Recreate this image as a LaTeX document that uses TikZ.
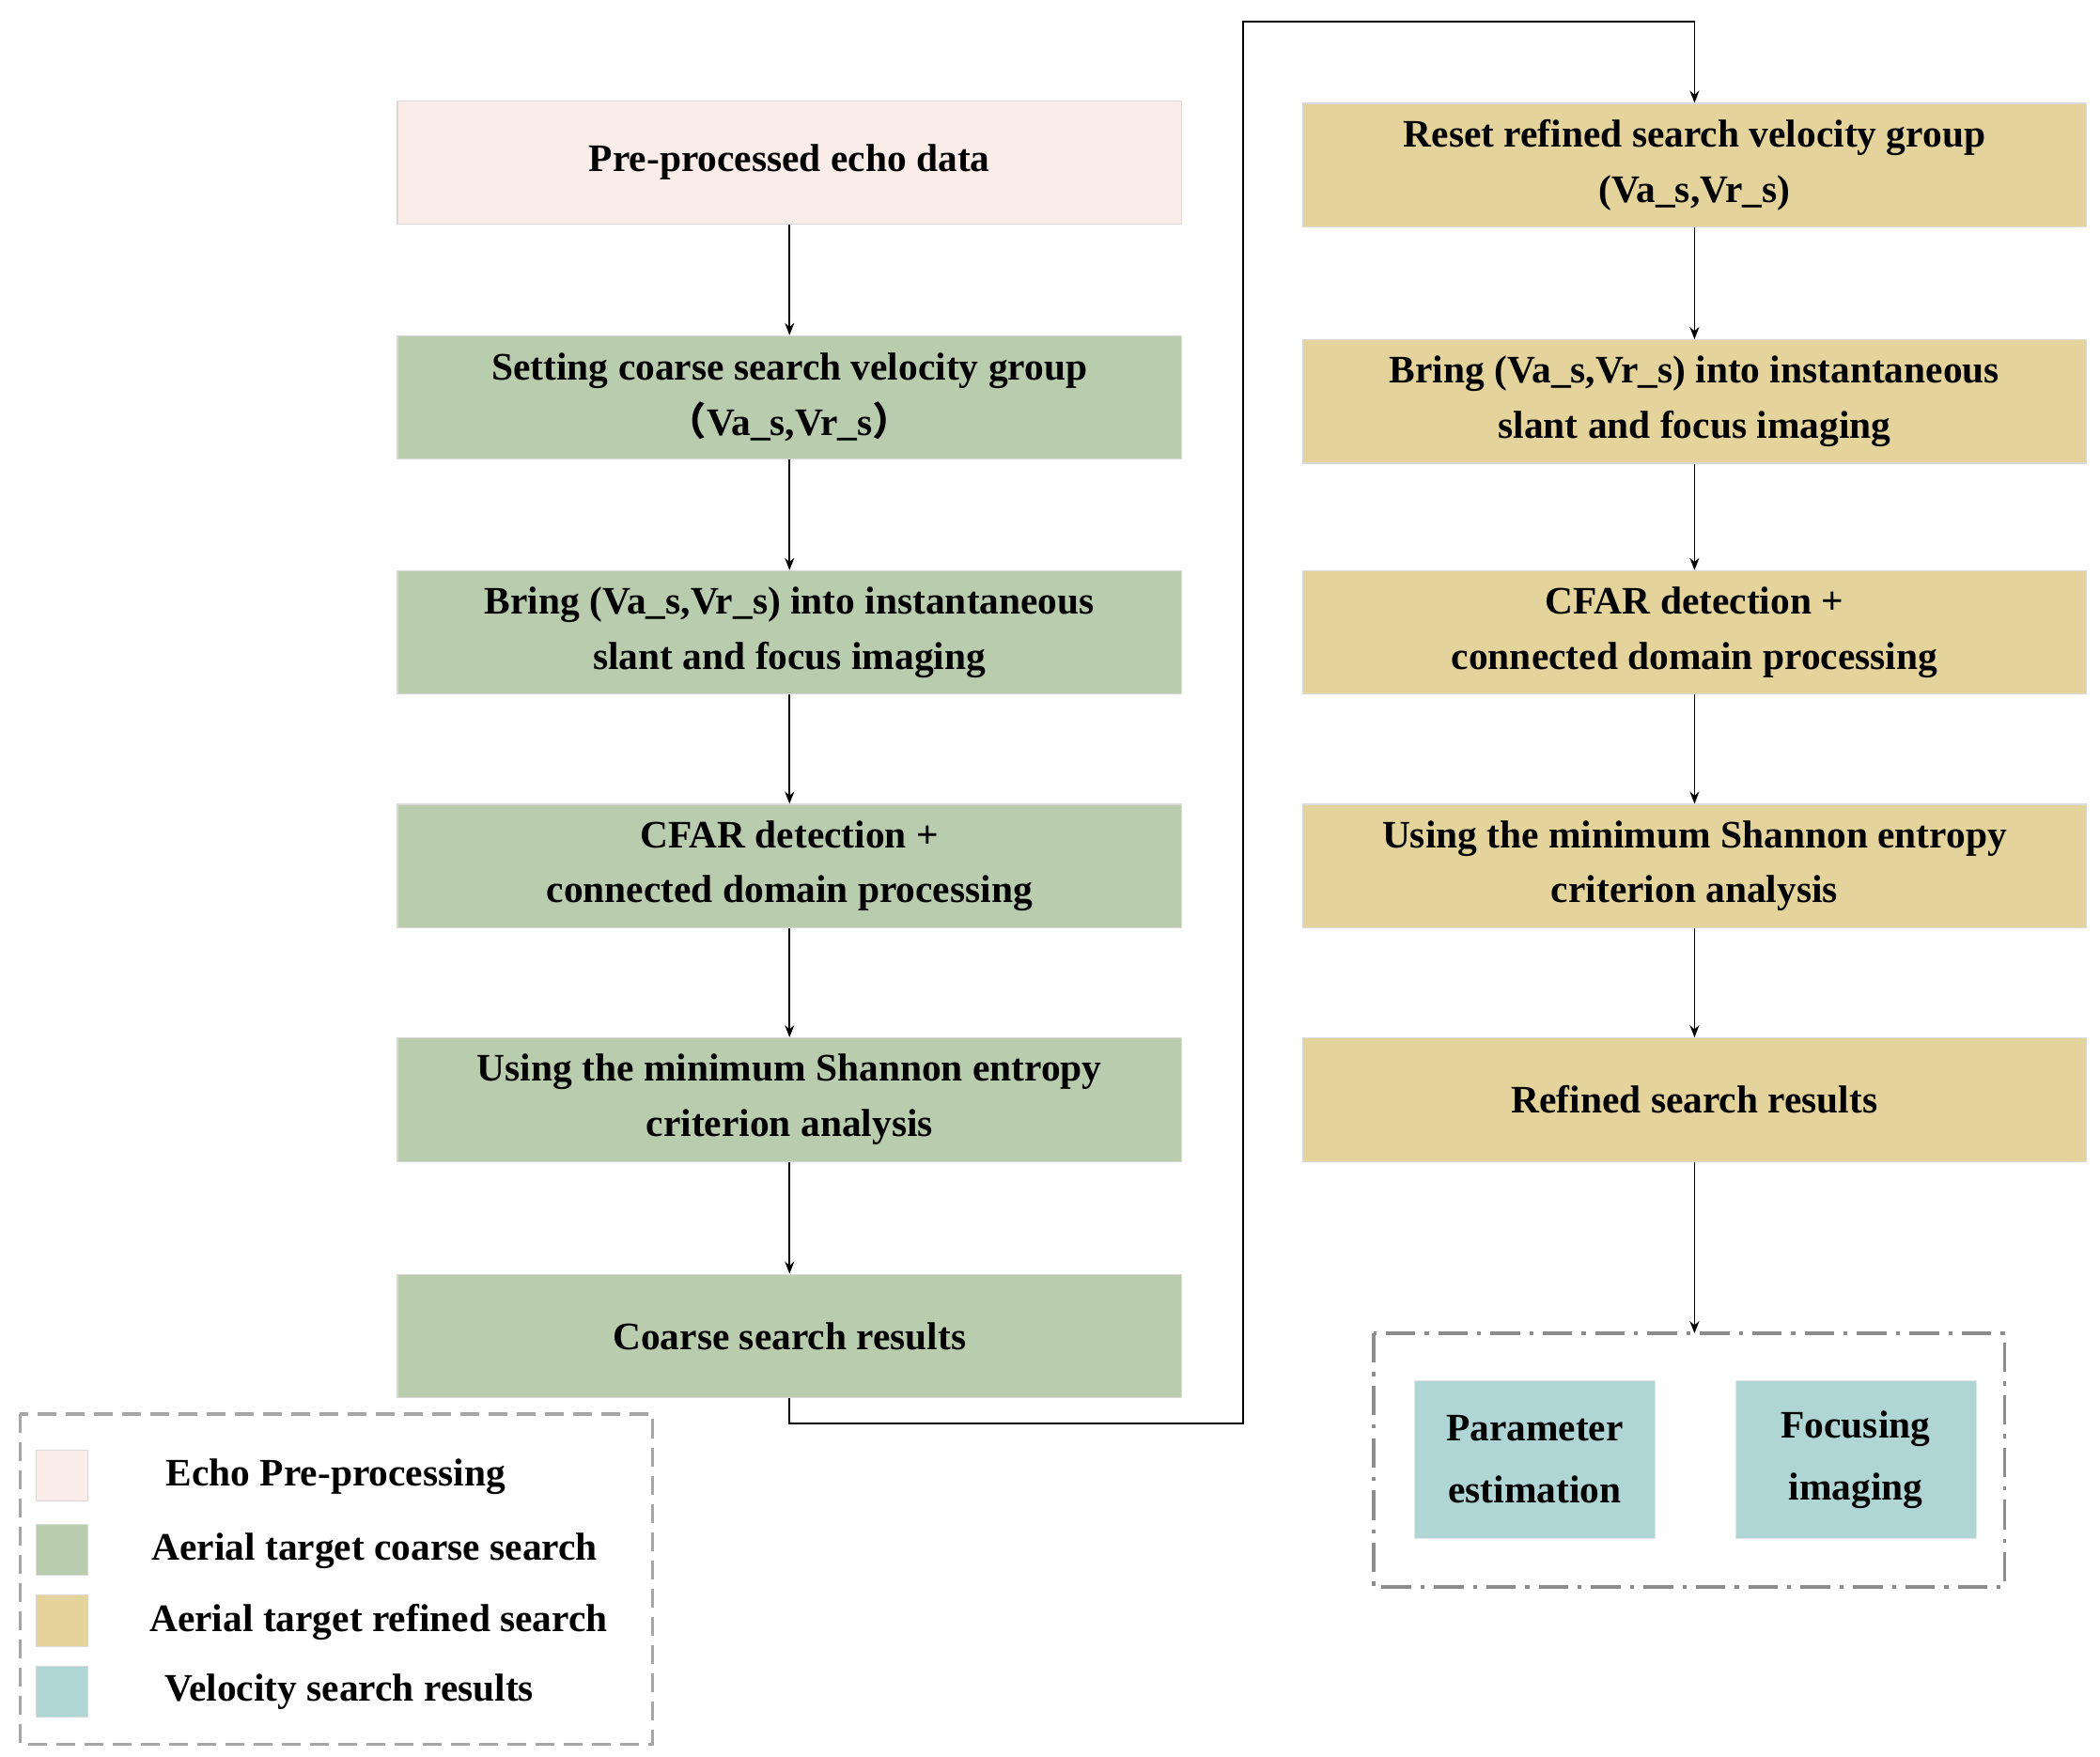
\documentclass[tikz,border=0pt]{standalone}
\usepackage{fontspec}
\setmainfont{Liberation Serif}
\newfontfamily\cjk{Noto Sans CJK SC}
\usetikzlibrary{arrows.meta}
\definecolor{pinkc}{HTML}{F9ECE9}
\definecolor{greenc}{HTML}{BACCAE}
\definecolor{goldc}{HTML}{E5D39C}
\definecolor{tealc}{HTML}{B0D5D5}
\begin{document}
\begin{tikzpicture}[x=1pt,y=-1pt,
  box/.style={draw=black!15,line width=0.8pt,minimum width=584pt,minimum height=92pt,align=center,font=\fontsize{29}{41}\selectfont\bfseries,inner sep=0pt},
  tbox/.style={fill=tealc,draw=black!10,minimum width=179pt,minimum height=117pt,align=center,font=\fontsize{29}{46}\selectfont\bfseries,inner sep=0pt},
  sw/.style={draw=black!15,minimum width=38pt,minimum height=38pt,inner sep=0pt},
  lab/.style={font=\fontsize{29}{35}\selectfont\bfseries},
  arr/.style={-{Stealth[length=9pt,width=7pt]},line width=1.2pt}]
\useasboundingbox (0,0) rectangle (1564,1308);
\node[box,fill=pinkc] (b1) at (588,121) {Pre-processed echo data};
\node[box,fill=greenc] (b2) at (588,296) {Setting coarse search velocity group\\{\cjk （}Va\_s,Vr\_s{\cjk ）}};
\node[box,fill=greenc] (b3) at (588,471) {Bring (Va\_s,Vr\_s) into instantaneous\\slant and focus imaging};
\node[box,fill=greenc] (b4) at (588,645) {CFAR detection +\\connected domain processing};
\node[box,fill=greenc] (b5) at (588,819) {Using the minimum Shannon entropy\\criterion analysis};
\node[box,fill=greenc] (b6) at (588,995) {Coarse search results};
\node[box,fill=goldc] (r1) at (1262,123) {Reset refined search velocity group\\(Va\_s,Vr\_s)};
\node[box,fill=goldc] (r2) at (1262,299) {Bring (Va\_s,Vr\_s) into instantaneous\\slant and focus imaging};
\node[box,fill=goldc] (r3) at (1262,471) {CFAR detection +\\connected domain processing};
\node[box,fill=goldc] (r4) at (1262,645) {Using the minimum Shannon entropy\\criterion analysis};
\node[box,fill=goldc] (r5) at (1262,819) {Refined search results};
\draw[black!45,line width=2.5pt,dash pattern=on 22pt off 7pt on 3pt off 7pt] (1023,993) rectangle (1493,1182);
\coordinate (dtop) at (1262,993);
\node[tbox] (t1) at (1143,1087) {Parameter\\estimation};
\node[tbox] (t2) at (1382,1087) {Focusing\\imaging};
\foreach \a/\b in {b1/b2,b2/b3,b3/b4,b4/b5,b5/b6,r1/r2,r2/r3,r3/r4,r4/r5}
  \draw[arr] (\a.south) -- (\b.north);
\draw[arr] (r5.south) -- (dtop);
\draw[arr] (b6.south) -- (588,1060) -- (926,1060) -- (926,16) -- (1262,16) -- (r1.north);
\draw[black!35,line width=2.5pt,dash pattern=on 14pt off 7pt] (15,1053) rectangle (486,1299);
\node[sw,fill=pinkc] (s1) at (46,1099) {};
\node[sw,fill=greenc] (s2) at (46,1154) {};
\node[sw,fill=goldc] (s3) at (46,1207) {};
\node[sw,fill=tealc] (s4) at (46,1260) {};
\node[lab] (l1) at (250,1100) {Echo Pre-processing};
\node[lab] (l2) at (279,1155) {Aerial target coarse search};
\node[lab] (l3) at (282,1208) {Aerial target refined search};
\node[lab] (l4) at (260,1260) {Velocity search results};
\end{tikzpicture}
\end{document}
